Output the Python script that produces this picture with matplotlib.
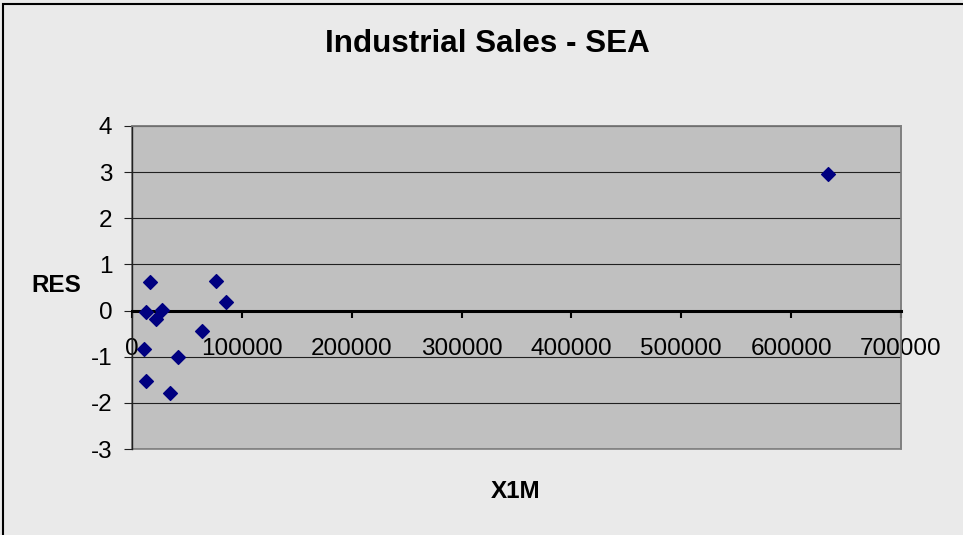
import matplotlib
matplotlib.use("Agg")
import matplotlib.pyplot as plt
from matplotlib.patches import Rectangle

# data
x1m = [16100, 12800, 27400, 22200, 76800, 85900, 64000, 11300, 42100, 12800, 34400, 633500]
res = [0.61, -0.04, 0.01, -0.18, 0.65, 0.18, -0.44, -0.83, -1.00, -1.52, -1.78, 2.96]

xticks = [0, 100000, 200000, 300000, 400000, 500000, 600000, 700000]
yticks = [-3, -2, -1, 0, 1, 2, 3, 4]

plt.rcParams['font.family'] = ['Liberation Sans', 'DejaVu Sans']

W, H = 963, 535
fig = plt.figure(figsize=(W / 100, H / 100), dpi=100)
fig.patch.set_facecolor('#eaeaea')

# outer chart border (only left/top visible in the picture)
fig.patches.append(Rectangle((3 / W, -0.1), 1.2, 1 - 4 / H + 0.1, transform=fig.transFigure,
                             fill=False, edgecolor='black', lw=1.5))

ax = fig.add_axes([132 / W, 1 - 449 / H, (901 - 132) / W, (449 - 126) / H])
ax.set_facecolor('#c0c0c0')
ax.patch.set_edgecolor('#808080')
ax.patch.set_linewidth(1.2)

ax.scatter(x1m, res, marker='D', s=7 ** 2, color='#000080', zorder=5, clip_on=False)

ax.set_xlim(0, 700000)
ax.set_ylim(-3, 4)
ax.set_xticks(xticks)
ax.set_xticklabels([str(v) for v in xticks])
ax.set_yticks(yticks)
ax.set_yticklabels([str(v) for v in yticks])

ax.yaxis.grid(True, color='#202020', lw=0.8)
ax.set_axisbelow(True)

for s in ['top', 'right']:
    ax.spines[s].set_color('#808080')
    ax.spines[s].set_linewidth(1.2)
ax.spines['left'].set_color('#202020')
ax.spines['left'].set_linewidth(1)
ax.spines['bottom'].set_position(('data', 0))
ax.spines['bottom'].set_color('black')
ax.spines['bottom'].set_linewidth(2.2)
ax.spines['bottom'].set_zorder(3)

ax.tick_params(axis='x', direction='out', length=5, width=1.5, color='black',
               pad=14.5, labelsize=17.5)
ax.tick_params(axis='y', direction='out', length=5.8, width=0.8, color='#202020',
               pad=8.5, labelsize=17.5)

fig.text(487 / W, 1 - 44 / H, 'Industrial Sales - SEA', ha='center', va='center',
         fontsize=22.6, fontweight='bold')
fig.text(56 / W, 1 - 285.5 / H, 'RES', ha='center', va='center',
         fontsize=17.5, fontweight='bold')
fig.text(516 / W, 1 - 492 / H, 'X1M', ha='center', va='center',
         fontsize=17.5, fontweight='bold')

fig.savefig('out.png', dpi=100, facecolor=fig.get_facecolor())
